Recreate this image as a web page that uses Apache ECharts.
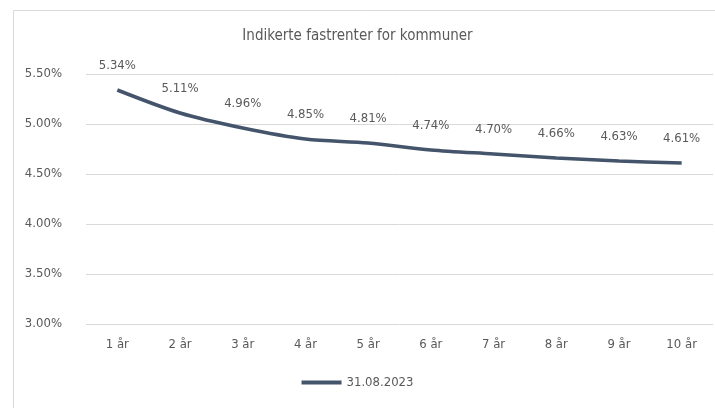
<!DOCTYPE html>
<html>
<head>
<meta charset="utf-8">
<script src="https://cdn.jsdelivr.net/npm/echarts@6/dist/echarts.min.js"></script>
<style>
  html, body { margin: 0; padding: 0; background: #fff; }
  #main { width: 715px; height: 408px; }
</style>
</head>
<body>
<div id="main"></div>
<script>
  // data
  const categories = ['1 år', '2 år', '3 år', '4 år', '5 år', '6 år', '7 år', '8 år', '9 år', '10 år']
  const rates = [5.34, 5.11, 4.96, 4.85, 4.81, 4.74, 4.70, 4.66, 4.63, 4.61]
  const seriesName = '31.08.2023'
  const yTicks = [3.0, 3.5, 4.0, 4.5, 5.0, 5.5]

  const gray = '#595959'
  const font = '"Liberation Sans Narrow", "DejaVu Sans Condensed", "Open Sans", sans-serif'

  const myChart = echarts.init(document.getElementById('main'))
  myChart.setOption({
    animation: false,
    graphic: [{
      type: 'rect',
      shape: { x: 13.5, y: 10.5, width: 720, height: 420 },
      style: { fill: 'none', stroke: '#d9d9d9', lineWidth: 1 },
      silent: true
    }],
    title: {
      text: 'Indikerte fastrenter for kommuner',
      left: 'center',
      top: 24,
      textStyle: { color: gray, fontSize: 15, fontWeight: 'normal', fontFamily: font }
    },
    legend: {
      bottom: 14,
      left: 'center',
      itemWidth: 40,
      itemHeight: 4,
      itemGap: 4,
      icon: 'rect',
      textStyle: { color: gray, fontSize: 13, fontFamily: font },
      data: [seriesName]
    },
    grid: { left: 86, right: 2, top: 74, bottom: 84 },
    xAxis: {
      type: 'category',
      data: categories,
      boundaryGap: true,
      axisLine: { show: false },
      axisTick: { show: false },
      axisLabel: { color: gray, fontSize: 13, margin: 14, fontFamily: font }
    },
    yAxis: {
      type: 'value',
      min: yTicks[0],
      max: yTicks[yTicks.length - 1],
      interval: 0.5,
      axisLine: { show: false },
      axisTick: { show: false },
      splitLine: { lineStyle: { color: '#d9d9d9', width: 1 } },
      axisLabel: {
        color: gray, fontSize: 13, margin: 24, fontFamily: font,
        formatter: v => v.toFixed(2) + '%'
      }
    },
    series: [{
      name: seriesName,
      type: 'line',
      data: rates,
      smooth: 0.3,
      symbol: 'circle',
      symbolSize: 0,
      showSymbol: true,
      lineStyle: { color: '#44546a', width: 3.5 },
      itemStyle: { color: '#44546a' },
      label: {
        show: true,
        position: 'top',
        distance: 18,
        color: gray,
        fontSize: 13,
        fontFamily: font,
        formatter: p => p.value.toFixed(2) + '%'
      }
    }]
  })
  window.addEventListener('resize', function () {
    myChart.resize()
  })
</script>
</body>
</html>
